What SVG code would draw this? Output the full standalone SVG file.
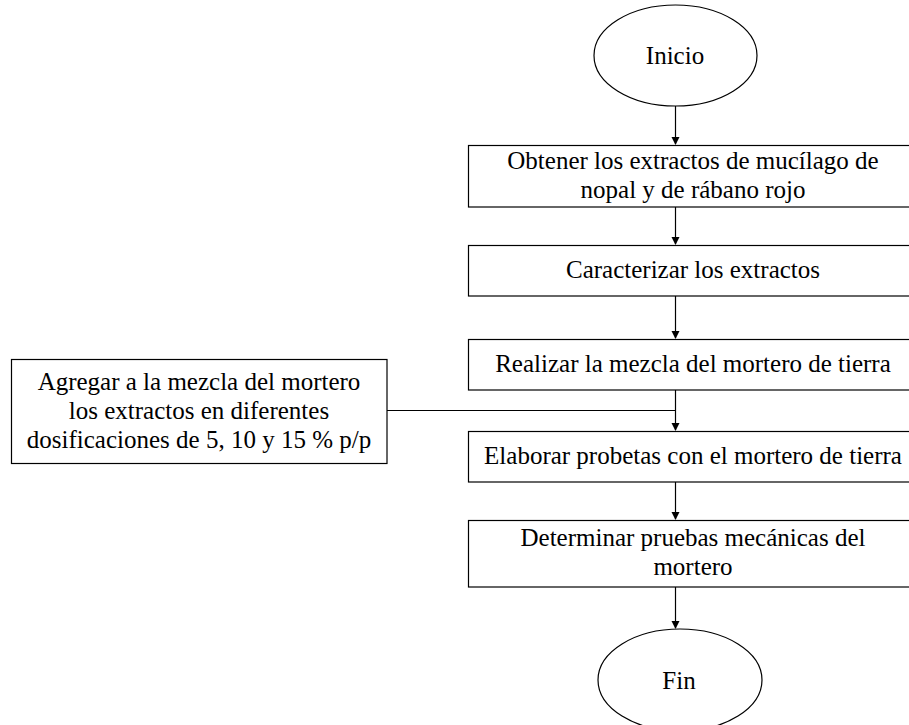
<svg xmlns="http://www.w3.org/2000/svg" width="909" height="725" viewBox="0 0 909 725">
<style>
.s{fill:#fff;stroke:#000;stroke-width:1.2}
.t{font-family:"Liberation Serif","Times New Roman",serif;font-size:25px;fill:#000;text-anchor:middle}
.c{fill:none;stroke:#000;stroke-width:1.2}
</style>
<defs>
<marker id="ah" markerWidth="8" markerHeight="10" refX="7" refY="4" orient="auto" markerUnits="userSpaceOnUse" viewBox="0 0 8 8">
<path d="M0,0 L8,4 L0,8 Z" fill="#000"/>
</marker>
</defs>
<rect width="909" height="725" fill="#fff"/>
<g id="connectors">
<line class="c" x1="675.5" y1="106" x2="675.5" y2="144" marker-end="url(#ah)"/>
<line class="c" x1="675.5" y1="207" x2="675.5" y2="244" marker-end="url(#ah)"/>
<line class="c" x1="675.5" y1="296" x2="675.5" y2="338" marker-end="url(#ah)"/>
<line class="c" x1="675.5" y1="390" x2="675.5" y2="430" marker-end="url(#ah)"/>
<line class="c" x1="387" y1="410.5" x2="675.5" y2="410.5"/>
<line class="c" x1="675.5" y1="482" x2="675.5" y2="519" marker-end="url(#ah)"/>
<line class="c" x1="675.5" y1="587" x2="675.5" y2="628" marker-end="url(#ah)"/>
</g>
<g id="inicio">
<ellipse class="s" cx="675.5" cy="55.5" rx="81.5" ry="50.5"/>
<text class="t" x="675" y="64">Inicio</text>
</g>
<g id="obtener">
<rect class="s" x="468.5" y="145.5" width="450" height="61.5"/>
<text class="t" x="693" y="169">Obtener los extractos de mucílago de</text>
<text class="t" x="693" y="198">nopal y de rábano rojo</text>
</g>
<g id="caracterizar">
<rect class="s" x="468.5" y="245.5" width="450" height="50.5"/>
<text class="t" x="693" y="278">Caracterizar los extractos</text>
</g>
<g id="realizar">
<rect class="s" x="468.5" y="339.5" width="450" height="50.5"/>
<text class="t" x="693" y="372">Realizar la mezcla del mortero de tierra</text>
</g>
<g id="agregar">
<rect class="s" x="11.5" y="359.5" width="375.5" height="104"/>
<text class="t" x="199" y="390">Agregar a la mezcla del mortero</text>
<text class="t" x="199" y="419">los extractos en diferentes</text>
<text class="t" x="199" y="448">dosificaciones de 5, 10 y 15 % p/p</text>
</g>
<g id="elaborar">
<rect class="s" x="468.5" y="431.5" width="450" height="50.5"/>
<text class="t" x="693" y="464">Elaborar probetas con el mortero de tierra</text>
</g>
<g id="determinar">
<rect class="s" x="468.5" y="520.5" width="450" height="66.5"/>
<text class="t" x="693" y="546">Determinar pruebas mecánicas del</text>
<text class="t" x="693" y="575">mortero</text>
</g>
<g id="fin">
<ellipse class="s" cx="680" cy="680" rx="82" ry="51"/>
<text class="t" x="679" y="689">Fin</text>
</g>
</svg>
